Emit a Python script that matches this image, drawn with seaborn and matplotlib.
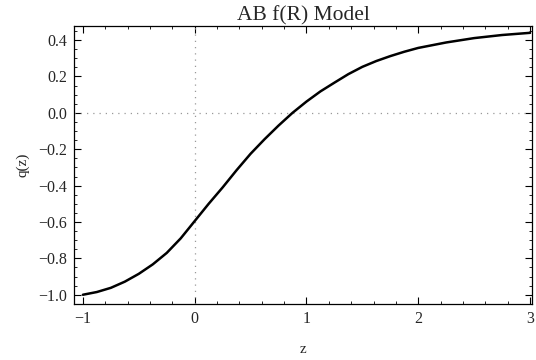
import matplotlib
matplotlib.use("Agg")
import matplotlib.pyplot as plt
from matplotlib.ticker import MultipleLocator
import pandas as pd
import seaborn as sns

# values
z = [-1.0, -0.875, -0.75, -0.625, -0.5, -0.375, -0.25, -0.125, 0.0,
     0.125, 0.25, 0.375, 0.5, 0.625, 0.75, 0.875, 1.0,
     1.125, 1.25, 1.375, 1.5, 1.625, 1.75, 1.875, 2.0,
     2.25, 2.5, 2.75, 3.0]
q = [-1.0, -0.985, -0.962, -0.928, -0.885, -0.833, -0.77, -0.69, -0.595,
     -0.50, -0.41, -0.315, -0.225, -0.145, -0.07, 0.0, 0.062,
     0.118, 0.166, 0.213, 0.253, 0.285, 0.312, 0.336, 0.357,
     0.387, 0.411, 0.428, 0.44]

df = pd.DataFrame({"z": z, "q(z)": q})

sns.set_style("ticks")
plt.rcParams["font.family"] = ["Liberation Serif", "DejaVu Serif"]

fig = plt.figure(figsize=(5.36, 3.6), dpi=100)
ax = fig.add_axes([0.138, 0.156, 0.855, 0.772])

ax.axhline(0, color="#999999", lw=0.9, ls=(0, (1, 4)), zorder=1)
ax.axvline(0, color="#999999", lw=0.9, ls=(0, (1, 4)), zorder=1)

sns.lineplot(data=df, x="z", y="q(z)", ax=ax, color="black", lw=1.8, zorder=3)

ax.set_xlim(-1.08, 3.02)
ax.set_ylim(-1.05, 0.478)
ax.xaxis.set_major_locator(MultipleLocator(1))
ax.xaxis.set_minor_locator(MultipleLocator(0.2))
ax.yaxis.set_major_locator(MultipleLocator(0.2))
ax.yaxis.set_minor_locator(MultipleLocator(0.05))
ax.yaxis.set_major_formatter(plt.FuncFormatter(lambda v, p: f"{v:.1f}".replace("-", "\u2212")))
ax.xaxis.set_major_formatter(plt.FuncFormatter(lambda v, p: f"{v:.0f}".replace("-", "\u2212")))

ax.tick_params(which="both", direction="in", top=True, right=True, labelsize=11.5, color="black")
ax.tick_params(which="major", length=5, width=0.8, pad=5)
ax.tick_params(which="minor", length=2.5, width=0.6)
for s in ax.spines.values():
    s.set_linewidth(0.9)
    s.set_color("black")

ax.set_xlabel("z", fontsize=11, labelpad=12)
ax.set_ylabel("q(z)", fontsize=11, labelpad=6)
ax.set_title("AB f(R) Model", fontsize=15.5, pad=1)

fig.savefig("out.png", dpi=100)
